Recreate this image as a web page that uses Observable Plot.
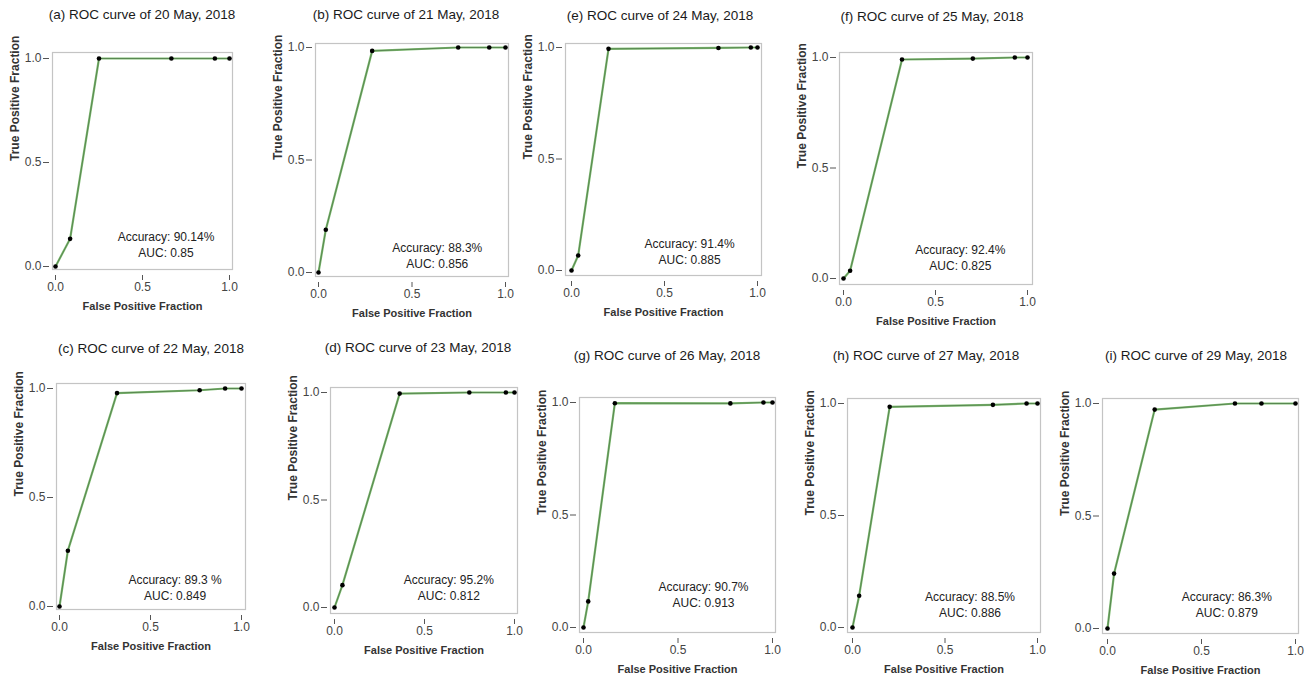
<!DOCTYPE html>
<html><head><meta charset="utf-8">
<script src="https://cdn.jsdelivr.net/npm/d3@7"></script>
<script src="https://cdn.jsdelivr.net/npm/@observablehq/plot@0.6"></script>
<style>
html,body{margin:0;padding:0;background:#fff;}
#root{position:relative;width:1307px;height:685px;overflow:hidden;font-family:"Liberation Sans",Arial,sans-serif;}
.title{position:absolute;transform:translateX(-50%);white-space:nowrap;font-size:13.5px;line-height:16px;color:#1a1a1a;}
.panel{position:absolute;}
</style></head><body><div id="root"></div>
<script>
// ---- data ----
const panelIds = ["a","b","c","d","e","f","g","h","i"];
const dates = ["20 May, 2018","21 May, 2018","22 May, 2018","23 May, 2018","24 May, 2018","25 May, 2018","26 May, 2018","27 May, 2018","29 May, 2018"];
const accuracy = ["90.14%","88.3%","89.3 %","95.2%","91.4%","92.4%","90.7%","88.5%","86.3%"];
const auc = ["0.85","0.856","0.849","0.812","0.885","0.825","0.913","0.886","0.879"];
const xTicks = [0, 0.5, 1];
const yTicks = [0, 0.5, 1];
const xLabel = "False Positive Fraction";
const yLabel = "True Positive Fraction";

const fpr_a = [0, 0.084, 0.25, 0.666, 0.916, 1];
const tpr_a = [0, 0.133, 1, 1, 1, 1];
const fpr_b = [0, 0.039, 0.287, 0.747, 0.913, 1];
const tpr_b = [0, 0.19, 0.985, 1, 1, 1];
const fpr_c = [0, 0.046, 0.316, 0.77, 0.91, 1];
const tpr_c = [0, 0.256, 0.979, 0.992, 1, 1];
const fpr_d = [0, 0.044, 0.362, 0.749, 0.952, 1];
const tpr_d = [0, 0.104, 0.995, 1, 1, 1];
const fpr_e = [0, 0.036, 0.199, 0.79, 0.964, 1];
const tpr_e = [0, 0.067, 0.994, 0.998, 1, 1];
const fpr_f = [0, 0.036, 0.318, 0.703, 0.931, 1];
const tpr_f = [0, 0.035, 0.991, 0.995, 1, 1];
const fpr_g = [0, 0.025, 0.166, 0.777, 0.952, 1];
const tpr_g = [0, 0.116, 0.997, 0.996, 1, 1];
const fpr_h = [0, 0.036, 0.201, 0.759, 0.941, 1];
const tpr_h = [0, 0.142, 0.985, 0.994, 1, 1];
const fpr_i = [0, 0.035, 0.251, 0.678, 0.819, 1];
const tpr_i = [0, 0.244, 0.973, 1, 1, 1];
const fprs = [fpr_a,fpr_b,fpr_c,fpr_d,fpr_e,fpr_f,fpr_g,fpr_h,fpr_i];
const tprs = [tpr_a,tpr_b,tpr_c,tpr_d,tpr_e,tpr_f,tpr_g,tpr_h,tpr_i];

// ---- layout (pixel frame boxes & where 0/1 fall) ----
const layout = [
  {fL:52,fR:232,fT:52,fB:269,x0:55,x1:229,y1:58,y0:266,tx:142,ty:15,ay:0.14},
  {fL:315,fR:508,fT:43,fB:276,x0:318,x1:505,y1:47,y0:272,tx:406,ty:15,ay:0.107},
  {fL:56,fR:245,fT:383,fB:609,x0:59,x1:241,y1:388,y0:606,tx:151,ty:349,ay:0.12},
  {fL:330,fR:517,fT:387,fB:613,x0:334,x1:514,y1:392,y0:607,tx:418,ty:348,ay:0.126},
  {fL:565,fR:761,fT:43,fB:275,x0:571,x1:757,y1:47,y0:270,tx:660,ty:16,ay:0.12},
  {fL:839,fR:1032,fT:52,fB:284,x0:843,x1:1027,y1:57,y0:278,tx:932,ty:17,ay:0.127},
  {fL:579,fR:775,fT:397,fB:632,x0:583,x1:772,y1:402,y0:627,tx:667,ty:356,ay:0.18},
  {fL:847,fR:1040,fT:398,fB:632,x0:852,x1:1037,y1:403,y0:627,tx:926,ty:356,ay:0.134},
  {fL:1102,fR:1298,fT:398,fB:633,x0:1107,x1:1295,y1:403,y0:628,tx:1196,ty:356,ay:0.138}
];
const axAnnX = 0.635;

const root = document.getElementById("root");
const FONT = "Liberation Sans, Arial, sans-serif";
const mL = 55, mR = 8, mT = 10, mB = 48;

panelIds.forEach((id, k) => {
  const L = layout[k];
  const ux = L.x1 - L.x0, uy = L.y0 - L.y1;
  const xdom = [-(L.x0 - L.fL) / ux, 1 + (L.fR - L.x1) / ux];
  const ydom = [-(L.fB - L.y0) / uy, 1 + (L.y1 - L.fT) / uy];
  const data = fprs[k].map((f, j) => ({fpr: f, tpr: tprs[k][j]}));
  const fH = L.fB - L.fT;
  const chart = Plot.plot({
    width: (L.fR - L.fL) + mL + mR,
    height: fH + mT + mB,
    marginLeft: mL, marginRight: mR, marginTop: mT, marginBottom: mB,
    x: {domain: xdom, axis: null},
    y: {domain: ydom, axis: null},
    style: {fontFamily: FONT, background: "transparent", overflow: "visible"},
    marks: [
      Plot.frame({stroke: "#c4c4c4", strokeWidth: 1.2}),
      Plot.axisX({ticks: xTicks, tickFormat: d3.format(".1f"), label: null, tickSize: 5, tickPadding: 2, dy: 6, fontSize: 12, color: "#444", stroke: "#555"}),
      Plot.axisY({ticks: yTicks, tickFormat: d3.format(".1f"), label: null, tickSize: 6, tickPadding: 2, dx: -3, fontSize: 12, color: "#444", stroke: "#555"}),
      Plot.line(data, {x: "fpr", y: "tpr", stroke: "#7dbb70", strokeWidth: 2.2}),
      Plot.line(data, {x: "fpr", y: "tpr", stroke: "#41643c", strokeWidth: 0.6}),
      Plot.dot(data, {x: "fpr", y: "tpr", r: 2.3, fill: "#000", stroke: "none"}),
      Plot.text([`Accuracy: ${accuracy[k]}`], {x: () => axAnnX, y: () => L.ay, text: d => d, fontSize: 12, fill: "#222", textAnchor: "middle"}),
      Plot.text([`AUC: ${auc[k]}`], {x: () => axAnnX, y: () => L.ay, dy: 16, text: d => d, fontSize: 12, fill: "#222", textAnchor: "middle"}),
      Plot.text([xLabel], {frameAnchor: "bottom", dy: 40, text: d => d, fontWeight: "bold", fontSize: 11, fill: "#333"}),
      Plot.text([yLabel], {frameAnchor: "left", dx: -37, rotate: -90, text: d => d, fontWeight: "bold", fontSize: 12, fill: "#333"})
    ]
  });
  chart.classList.add("panel");
  chart.style.left = (L.fL - mL) + "px";
  chart.style.top = (L.fT - mT) + "px";
  root.appendChild(chart);

  const t = document.createElement("div");
  t.className = "title";
  t.textContent = `(${id}) ROC curve of ${dates[k]}`;
  t.style.left = L.tx + "px";
  t.style.top = (L.ty - 8) + "px";
  root.appendChild(t);
});
</script>
</body></html>
